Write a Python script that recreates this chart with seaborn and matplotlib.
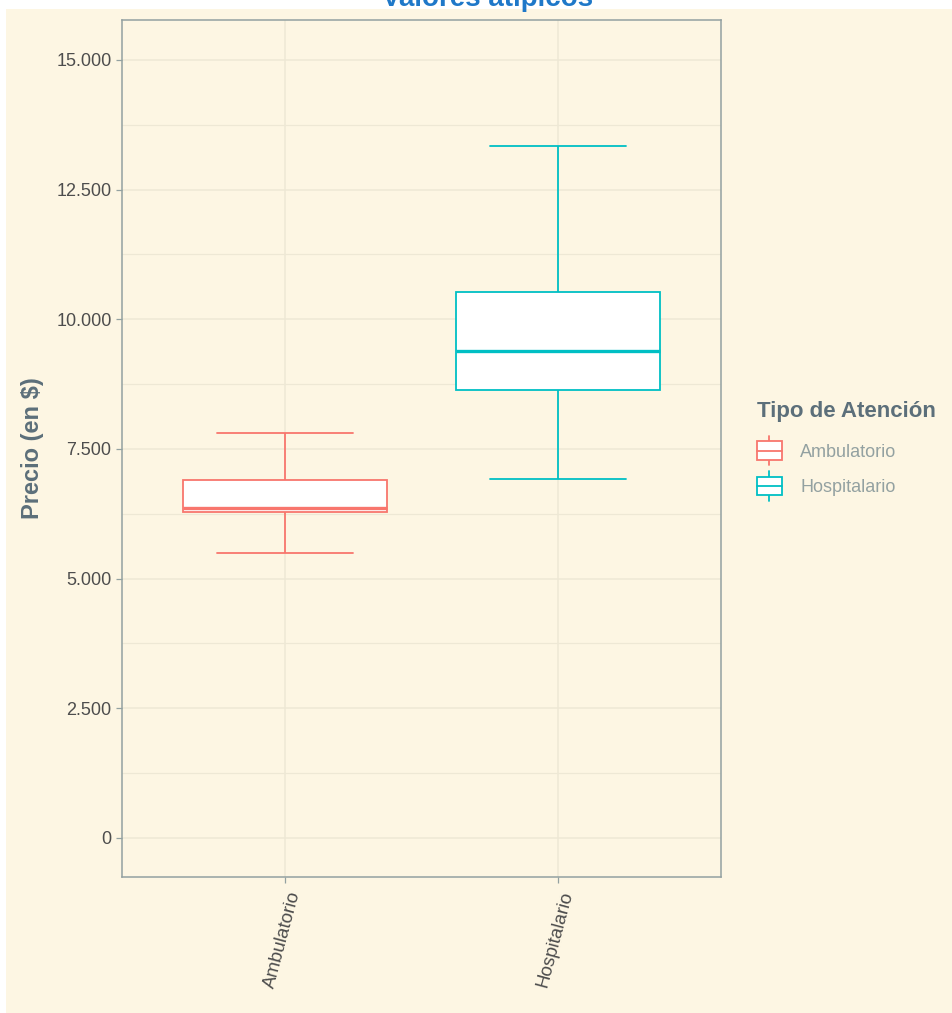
import matplotlib
matplotlib.use("Agg")
import matplotlib.pyplot as plt
import matplotlib.ticker as mticker
import matplotlib.transforms as mtransforms
from matplotlib.patches import Rectangle
from matplotlib.lines import Line2D
from matplotlib.legend_handler import HandlerBase
import seaborn as sns
import pandas as pd

# Datos: minimo, Q1, mediana, Q3, maximo
categorias = ["Ambulatorio", "Hospitalario"]
ambulatorio = [5494, 6291, 6368, 6902, 7808]
hospitalario = [6921, 8631, 9395, 10521, 13341]
colores = ["#F8766D", "#00BFC4"]
yticks = [0, 2500, 5000, 7500, 10000, 12500, 15000]

df = pd.DataFrame({
    "tipo": ["Ambulatorio"] * len(ambulatorio) + ["Hospitalario"] * len(hospitalario),
    "precio": ambulatorio + hospitalario,
})

bg = "#FDF6E3"
sns.set_theme(style="white")
plt.rcParams["font.family"] = ["Liberation Sans", "DejaVu Sans"]

fig = plt.figure(figsize=(9.52, 10.13), dpi=100, facecolor="white")
W, H = 952, 1013
fig.patches.append(Rectangle((6 / W, 0), 1, 1 - 9 / H, transform=fig.transFigure,
                             facecolor=bg, edgecolor="none", zorder=-10))
ax = fig.add_axes([122 / W, 1 - 877 / H, (721 - 122) / W, (877 - 20) / H])
ax.set_facecolor(bg)

sns.boxplot(data=df, x="tipo", y="precio", hue="tipo", palette=colores,
            order=categorias, fill=True, width=0.75, linewidth=1.3,
            whis=1.5, legend=False, ax=ax,
            medianprops={"linewidth": 2.4}, capwidths=0.5)

# cajas blancas con borde del color de cada grupo
for cont, col in zip(ax.containers, colores):
    for b in cont.boxes:
        b.set_facecolor("white")
        b.set_edgecolor(col)
    for grp in (cont.medians, cont.whiskers, cont.caps):
        for ln in grp:
            ln.set_color(col)

ax.set_xlim(-0.6, 1.6)
ax.set_ylim(-752, 15771)
ax.set_yticks(yticks)
ax.yaxis.set_minor_locator(mticker.MultipleLocator(1250))
ax.yaxis.set_major_formatter(mticker.FuncFormatter(lambda v, p: f"{int(v):,}".replace(",", ".")))

ax.grid(True, which="major", color="#EEE8D5", linewidth=1.1, zorder=0)
ax.grid(True, which="minor", axis="y", color="#EEE8D5", linewidth=0.9, zorder=0)
ax.set_axisbelow(True)
for s in ax.spines.values():
    s.set_color("#93A1A1")
    s.set_linewidth(1.1)

ax.tick_params(axis="both", which="major", length=4, width=0.9, color="#93A1A1",
               labelsize=13, labelcolor="#4D4D4D", left=True, bottom=True)
ax.tick_params(axis="x", labelsize=13.5)
ax.tick_params(axis="y", which="minor", length=0)
desplaza = mtransforms.ScaledTranslation(10 / 100, -4 / 100, fig.dpi_scale_trans)
for lab in ax.get_xticklabels():
    lab.set_rotation(75)
    lab.set_ha("right")
    lab.set_va("center")
    lab.set_rotation_mode("anchor")
    lab.set_transform(lab.get_transform() + desplaza)

ax.set_xlabel("")
ax.set_ylabel("Precio (en $)", fontsize=17, fontweight="bold", color="#5C6F7A")
ax.yaxis.set_label_coords(-0.13, 0.5)

fig.text(488 / W, 1 - 6 / H, "Valores atípicos", ha="center", va="baseline",
         fontsize=20, fontweight="bold", color="#1F78C8")


class BoxHandler(HandlerBase):
    def create_artists(self, legend, orig, xd, yd, width, height, fontsize, trans):
        c = orig.get_color()
        x0, y0 = -xd, -yd
        rect = Rectangle((x0, y0), width, height,
                         facecolor="white", edgecolor=c, linewidth=1.3, transform=trans)
        mid = Line2D([x0, x0 + width], [y0 + height / 2] * 2, color=c, lw=1.3, transform=trans)
        up = Line2D([x0 + width / 2] * 2, [y0 + height, y0 + height * 1.3],
                    color=c, lw=1.3, transform=trans)
        dn = Line2D([x0 + width / 2] * 2, [y0, y0 - height * 0.3],
                    color=c, lw=1.3, transform=trans)
        return [up, dn, rect, mid]


handles = [Line2D([], [], color=c) for c in colores]
leg = fig.legend(handles, categorias, title="Tipo de Atención",
                 handler_map={Line2D: BoxHandler()},
                 loc="upper left", bbox_to_anchor=(746 / W, 1 - 390 / H),
                 frameon=False, fontsize=13, title_fontsize=16,
                 handlelength=1.4, handleheight=1.2, labelspacing=0.9,
                 handletextpad=1.0, alignment="left", borderaxespad=0.2)
leg.get_title().set_fontweight("bold")
leg.get_title().set_color("#5C6F7A")
leg._legend_box.sep = 14
for t in leg.get_texts():
    t.set_color("#93A1A1")

fig.savefig("out.png", dpi=100, facecolor="white")
